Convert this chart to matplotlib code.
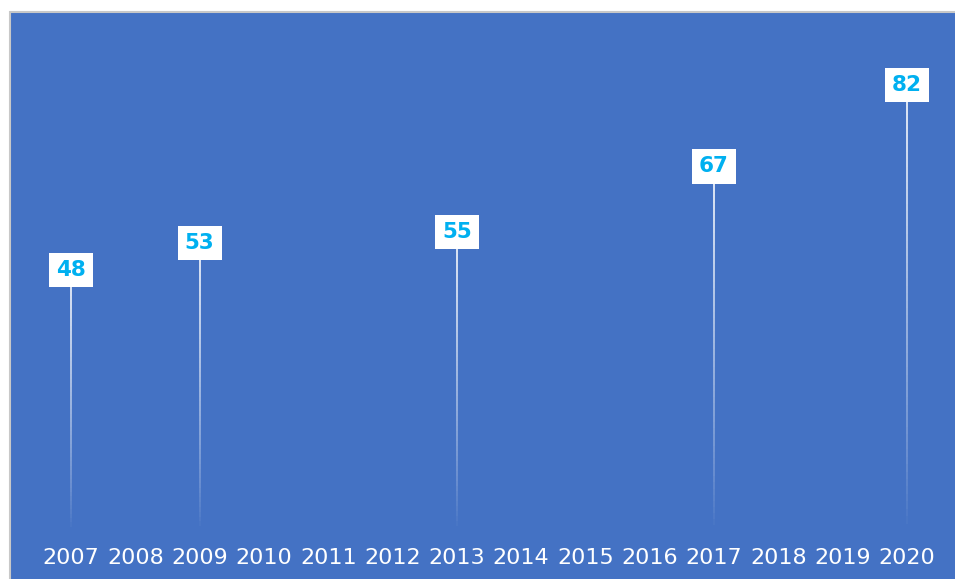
import numpy as np
import matplotlib.pyplot as plt
from matplotlib.collections import LineCollection
from matplotlib.patches import Rectangle

years = list(range(2007, 2021))
point_years = [2007, 2009, 2013, 2017, 2020]
point_values = [48, 53, 55, 67, 82]

bg_blue = '#4472C4'
label_cyan = '#00B0F0'

fig = plt.figure(figsize=(9.55, 5.79), dpi=100, facecolor='white')
fig.patches.append(Rectangle((9.5 / 955, -0.05), 1.0, 567 / 579 + 0.05, transform=fig.transFigure,
                             facecolor=bg_blue, edgecolor='#C8C8C8', linewidth=1.5, zorder=0))

ax = fig.add_axes([10 / 955, 0, 945 / 955, 566 / 579])
ax.set_zorder(2)
ax.set_facecolor('none')
for s in ax.spines.values():
    s.set_visible(False)
ax.set_xlim(2006.05, 2020.75)
ax.set_ylim(-8.8, 95.2)
ax.set_xticks([])
ax.set_yticks([])

# stems fading toward the bottom
n = 60
for x, v in zip(point_years, point_values):
    ys = np.linspace(0, v, n + 1)
    segs = [[(x, ys[i]), (x, ys[i + 1])] for i in range(n)]
    alphas = np.linspace(0.0, 1.0, n) ** 0.8
    colors = [(1, 1, 1, a) for a in alphas]
    ax.add_collection(LineCollection(segs, colors=colors, linewidths=1.2, zorder=2))
    ax.text(x, v, str(v), ha='center', va='center', fontsize=15.5, fontweight='bold',
            color=label_cyan, zorder=3,
            bbox=dict(boxstyle='square,pad=0.33', facecolor='white', edgecolor='none'))

for yr in years:
    ax.text(yr, -5.0, str(yr), ha='center', va='center', fontsize=16, color='white')

fig.savefig('out.png', dpi=100)
